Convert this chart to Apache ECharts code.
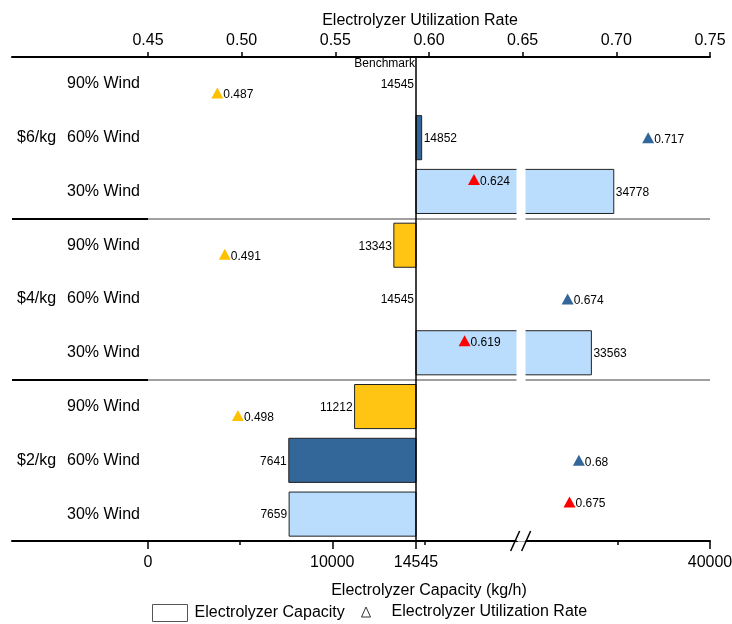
<!DOCTYPE html>
<html>
<head>
<meta charset="utf-8">
<script src="https://cdn.jsdelivr.net/npm/echarts@6/dist/echarts.min.js"></script>
<style>
  html, body { margin: 0; padding: 0; background: #fff; }
  #chart { width: 732px; height: 624px; }
</style>
</head>
<body>
<div id="chart"></div>
<script>
// Hydrogen price scenarios and wind shares (one row per combination)
const prices = ['$6/kg', '$4/kg', '$2/kg'];
const winds = ['90% Wind', '60% Wind', '30% Wind'];
const benchmark = 14545;
// Electrolyzer capacity (kg/h), rows in price × wind order
const capacity = [14545, 14852, 34778, 13343, 14545, 33563, 11212, 7641, 7659];
// Electrolyzer utilization rate, same row order
const utilization = [0.487, 0.717, 0.624, 0.491, 0.674, 0.619, 0.498, 0.68, 0.675];
// Axis ticks and labels
const capacityLabels = [0, 10000, 14545, 40000];
const capacityMinorTicks = [5000, 15000, 35000];
const utilizationTicks = [0.45, 0.50, 0.55, 0.60, 0.65, 0.70, 0.75];

const FONT = '"Liberation Sans", Arial, Helvetica, sans-serif';
const barColors = ['#FFC512', '#336699', '#BBDDFD'];
const markerColors = ['#FFC000', '#336699', '#FF0000'];
const markerShift = [9, 0, -12];

const rows = [];
prices.forEach((p, pi) => winds.forEach((w, wi) => rows.push({ key: p + '|' + w, price: p, wind: w, pi: pi, wi: wi })));
const categories = rows.map(r => r.key);

const capRange = { min: -7380, max: 40000 };
const capBreak = { start: 20000, end: 30000, gap: 500 };
const groupEdge = (idx) => idx === 3 || idx === 6;

const chart = echarts.init(document.getElementById('chart'), null, { renderer: 'canvas' });

const option = {
  animation: false,
  backgroundColor: '#fff',
  textStyle: { fontFamily: FONT },
  grid: [
    { left: 12, right: 22, top: 57, bottom: 83, containLabel: false, outerBoundsMode: 'none' },
    { left: 12, width: 136, top: 57, bottom: 83, containLabel: false, outerBoundsMode: 'none' }
  ],
  xAxis: [
    {
      type: 'value', gridIndex: 0, position: 'bottom', z: 1,
      min: capRange.min, max: capRange.max,
      breaks: [capBreak],
      breakArea: {
        show: true,
        itemStyle: { color: '#fff', borderColor: 'rgba(0,0,0,0)', borderWidth: 0, opacity: 1 },
        zigzagAmplitude: 0,
        expandOnClick: false
      },
      axisLine: { show: true, lineStyle: { color: '#000', width: 2 } },
      axisTick: { show: true, customValues: capacityMinorTicks, length: 4, lineStyle: { color: '#000', width: 1.5 } },
      axisLabel: {
        show: true, customValues: capacityLabels, margin: 14,
        fontSize: 16, fontFamily: FONT, color: '#000',
        formatter: v => String(v)
      },
      splitLine: { show: false }
    },
    {
      type: 'value', gridIndex: 0, position: 'top', z: 200,
      min: 0.3774, max: 0.75,
      axisLine: { show: true, lineStyle: { color: '#000', width: 2 } },
      axisTick: { show: true, customValues: utilizationTicks, length: 5, lineStyle: { color: '#000', width: 1.5 } },
      axisLabel: {
        show: true, customValues: utilizationTicks, margin: 8,
        fontSize: 16, fontFamily: FONT, color: '#000',
        formatter: v => v.toFixed(2)
      },
      splitLine: { show: false }
    },
    {
      type: 'value', gridIndex: 0, position: 'bottom', z: 1,
      min: capRange.min, max: capRange.max,
      breaks: [capBreak],
      breakArea: { show: false },
      axisLine: { show: false },
      axisTick: { show: true, customValues: capacityLabels, length: 8, lineStyle: { color: '#000', width: 1.5 } },
      axisLabel: { show: false },
      splitLine: { show: false }
    },
    { type: 'value', gridIndex: 1, show: false }
  ],
  yAxis: [
    {
      type: 'category', gridIndex: 0, inverse: true, data: categories,
      axisLine: { show: false }, axisTick: { show: false },
      axisLabel: {
        inside: true, margin: 5, interval: 0, color: '#000',
        formatter: (val, idx) => {
          const r = rows[idx];
          return (r.wi === 1 ? '{g|' + r.price + '}' : '{g| }') + '{w|' + r.wind + '}';
        },
        rich: {
          g: { width: 50, fontSize: 16, fontFamily: FONT, color: '#000' },
          w: { fontSize: 16, fontFamily: FONT, color: '#000' }
        }
      },
      splitLine: { show: true, interval: groupEdge, lineStyle: { color: '#A0A0A0', width: 2 } }
    },
    {
      type: 'category', gridIndex: 1, inverse: true, data: categories,
      axisLine: { show: false }, axisTick: { show: false }, axisLabel: { show: false },
      splitLine: { show: true, interval: groupEdge, lineStyle: { color: '#000', width: 2 } }
    }
  ],
  legend: [
    {
      left: 152, top: 604, padding: 0, itemWidth: 35, itemHeight: 17, selectedMode: false,
      textStyle: { fontSize: 16, fontFamily: FONT, color: '#000', padding: [0, 0, 0, 2] },
      data: [{ name: 'Electrolyzer Capacity', icon: 'rect', itemStyle: { color: '#fff', borderColor: '#555', borderWidth: 1 } }]
    },
    {
      left: 361, top: 604, padding: 0, itemWidth: 9, itemHeight: 10, selectedMode: false,
      textStyle: { fontSize: 16, fontFamily: FONT, color: '#000', padding: [0, 0, 0, 16] },
      data: [{ name: 'Electrolyzer Utilization Rate', icon: 'triangle', itemStyle: { color: '#fff', borderColor: '#333', borderWidth: 1 } }]
    }
  ],
  series: [
    {
      type: 'custom', name: 'Electrolyzer Capacity',
      xAxisIndex: 0, yAxisIndex: 0,
      encode: { x: 0, y: 1 },
      data: capacity.map((v, i) => [v, categories[i]]),
      renderItem: (params, api) => {
        const i = params.dataIndex;
        const v = api.value(0);
        const cat = api.value(1);
        const end = api.coord([v, cat]);
        const base = api.coord([benchmark, cat]);
        const h = api.size([0, 1])[1] * 0.82;
        const right = v > benchmark;
        const children = [];
        const w = Math.abs(end[0] - base[0]);
        if (w > 0.5) {
          children.push({
            type: 'rect',
            shape: { x: Math.min(end[0], base[0]), y: end[1] - h / 2, width: w, height: h },
            style: { fill: barColors[rows[i].wi], stroke: '#222', lineWidth: 1 }
          });
        }
        children.push({
          type: 'text',
          x: right ? end[0] + 2 : Math.min(end[0], base[0]) - 2,
          y: end[1] + 1,
          style: {
            text: String(v), fill: '#000', fontSize: 12, fontFamily: FONT,
            align: right ? 'left' : 'right', verticalAlign: 'middle'
          }
        });
        return { type: 'group', children: children };
      },
      markLine: {
        silent: true, symbol: ['none', 'none'],
        label: { show: false },
        lineStyle: { color: '#000', width: 1.5, type: 'solid' },
        data: [{ xAxis: benchmark }]
      }
    },
    {
      type: 'scatter', name: 'Electrolyzer Utilization Rate',
      xAxisIndex: 1, yAxisIndex: 0, z: 5,
      symbol: 'triangle', symbolSize: [12, 11],
      data: utilization.map((u, i) => ({
        value: [u, categories[i]],
        symbolOffset: [0, markerShift[rows[i].wi]],
        itemStyle: { color: markerColors[rows[i].wi], opacity: 1 }
      })),
      itemStyle: { opacity: 1 },
      label: {
        show: true, position: 'right', distance: 0, offset: [0, 2],
        fontSize: 12, fontFamily: FONT, color: '#000',
        formatter: p => String(p.value[0])
      },
      emphasis: { disabled: true }
    }
  ]
};

chart.setOption(option);

// Titles, the benchmark tag and the axis-break marks, placed through the axis scales
const benchX = chart.convertToPixel({ xAxisIndex: 0 }, benchmark);
const breakX = (chart.convertToPixel({ xAxisIndex: 0 }, capBreak.start) +
                chart.convertToPixel({ xAxisIndex: 0 }, capBreak.end)) / 2;
const axisY = chart.convertToPixel({ yAxisIndex: 0 }, categories[categories.length - 1]) +
              (chart.convertToPixel({ yAxisIndex: 0 }, categories[1]) - chart.convertToPixel({ yAxisIndex: 0 }, categories[0])) / 2;
const slash = (dx) => ({
  type: 'line', z: 300,
  shape: { x1: breakX + dx - 4.5, y1: axisY + 10, x2: breakX + dx + 4.5, y2: axisY - 10 },
  style: { stroke: '#000', lineWidth: 1.5 }
});
chart.setOption({
  graphic: [
    {
      type: 'text', x: 420, y: 21,
      style: { text: 'Electrolyzer Utilization Rate', fontSize: 16, fontFamily: FONT, fill: '#000', align: 'center', verticalAlign: 'middle', textAlign: 'center', textVerticalAlign: 'middle' }
    },
    {
      type: 'text', x: 429, y: 591,
      style: { text: 'Electrolyzer Capacity (kg/h)', fontSize: 16, fontFamily: FONT, fill: '#000', align: 'center', verticalAlign: 'middle', textAlign: 'center', textVerticalAlign: 'middle' }
    },
    {
      type: 'text', x: benchX - 1, y: 64,
      style: { text: 'Benchmark', fontSize: 12, fontFamily: FONT, fill: '#000', align: 'right', verticalAlign: 'middle', textAlign: 'right', textVerticalAlign: 'middle' }
    },
    slash(-6),
    slash(5)
  ]
});
</script>
</body>
</html>
